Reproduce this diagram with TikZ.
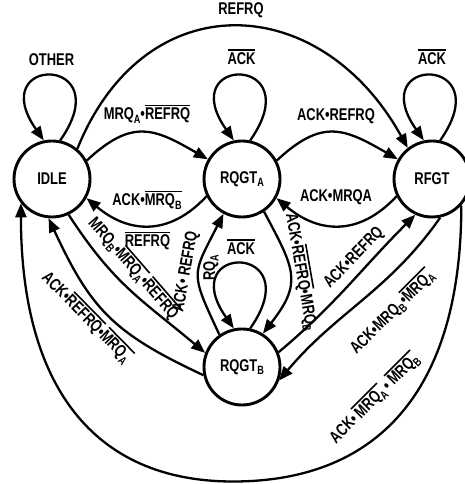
\documentclass[tikz,border=0pt]{standalone}
\usepackage{fontspec}
\setmainfont{Liberation Sans}[FakeStretch=0.76]
\usetikzlibrary{arrows.meta,positioning}
\newcommand{\subl}[1]{\raisebox{-3.5pt}{\fontsize{12}{12}\selectfont #1}}
\newcommand{\ovl}[1]{\vbox{\hrule height 1.6pt\kern 1.6pt\hbox{#1}}}
\tikzset{
  statenode/.style={circle,draw,line width=2.9pt,minimum size=76pt,inner sep=0pt,font=\fontsize{17}{17}\selectfont\bfseries},
  lbl/.style={inner sep=0pt,font=\fontsize{17}{17}\selectfont\bfseries},
  trans/.style={-{Triangle[length=14pt,width=11pt]},line width=2.3pt},
  selfloop/.style={trans,out=55,in=125,distance=105pt}
}
\begin{document}
\begin{tikzpicture}[x=1pt,y=1pt]
\useasboundingbox (0,0) rectangle (464,484);

\node[statenode] (idle) at (52,305) {IDLE};
\node[statenode] (rqa) at (242,305) {RQGT\subl{A}};
\node[statenode] (rfgt) at (432,305) {RFGT};
\node[statenode] (rqb) at (242,117) {RQGT\subl{B}};
\coordinate (bot) at (233,2.5);

% self loops
\draw[selfloop] (idle.78) to (idle.102);
\draw[selfloop] (rqa.78) to (rqa.102);
\draw[selfloop] (rfgt.78) to (rfgt.102);
\draw[selfloop] (rqb.78) to (rqb.102);

% top row
\draw[trans] (idle.50) to[out=68,in=119,distance=180pt] (rfgt.128);
\draw[trans] (idle.28) to[out=43,in=150,distance=62pt] (rqa.150);
\draw[trans] (rqa.206) to[out=227,in=320,distance=55pt] (idle.331);
\draw[trans] (rqa.28) to[out=43,in=150,distance=62pt] (rfgt.150);
\draw[trans] (rfgt.206) to[out=227,in=320,distance=55pt] (rqa.331);

% to and from RQGT_B
\draw[trans] (idle.295) to[out=-57,in=140,looseness=1.1] (rqb.159);
\draw[trans] (rqb.192) to[out=155,in=295,distance=100pt] (idle.265);
\draw[trans] (rqb.125) to[out=115,in=243,distance=70pt] (rqa.242);
\draw[trans] (rqa.304) to[out=-62,in=52,distance=65pt] (rqb.58);
\draw[trans] (rqb.22) to[out=40,in=225] (rfgt.245);
\draw[trans] (rfgt.282) to[out=235,in=50] (rqb.340);

% outer arc
\draw[trans] (rfgt.-42) to[out=270,in=0,out distance=179pt,in distance=150pt] (bot)
  to[out=180,in=270,out distance=140pt,in distance=182pt] (idle.218);

% labels
\node[lbl] (other) at (51.5,424) {OTHER};
\node[lbl] (nacka) at (241.5,427) {\ovl{ACK}};
\node[lbl] (nackf) at (432,427) {\ovl{ACK}};
\node[lbl] (nackb) at (241,237) {\ovl{ACK}};
\node[lbl] (refrq) at (241,473.5) {REFRQ};
\node[lbl] (mrqa) at (147,370) {MRQ\subl{A}•\ovl{REFRQ}};
\node[lbl] (ackmrqb) at (147,284) {ACK•\ovl{MRQ\subl{B}}};
\node[lbl] (ackref) at (336,368) {ACK•REFRQ};
\node[lbl] (ackmrqa) at (336,286.5) {ACK•MRQA};
\node[lbl] (nrefrq) at (147.5,243) {\ovl{REFRQ}};
\node[lbl,rotate=-49] (idleb) at (134,216) {MRQ\subl{B}•\ovl{MRQ\subl{A}}•\ovl{REFRQ}};
\node[lbl,rotate=-45.5] (bidle) at (87,167) {ACK•\ovl{REFRQ}•\ovl{MRQ\subl{A}}};
\node[lbl,rotate=80] (bacref) at (186,212.3) {ACK• REFRQ};
\node[lbl,rotate=90] (brqa) at (211,216) {RQ\subl{A}};
\node[lbl,rotate=-80] (ab) at (302,212) {ACK•\ovl{REFRQ}•MRQ\subl{B}};
\node[lbl,rotate=46] (bf) at (354,226) {ACK•REFRQ};
\node[lbl,rotate=45] (fb) at (391.7,172.3) {ACK•MRQ\subl{B}•\ovl{MRQ\subl{A}}};
\node[lbl,rotate=45] (fidle) at (374,86) {ACK•\,\ovl{MRQ\subl{A}}\,•\,\ovl{MRQ\subl{B}}};
\end{tikzpicture}
\end{document}
